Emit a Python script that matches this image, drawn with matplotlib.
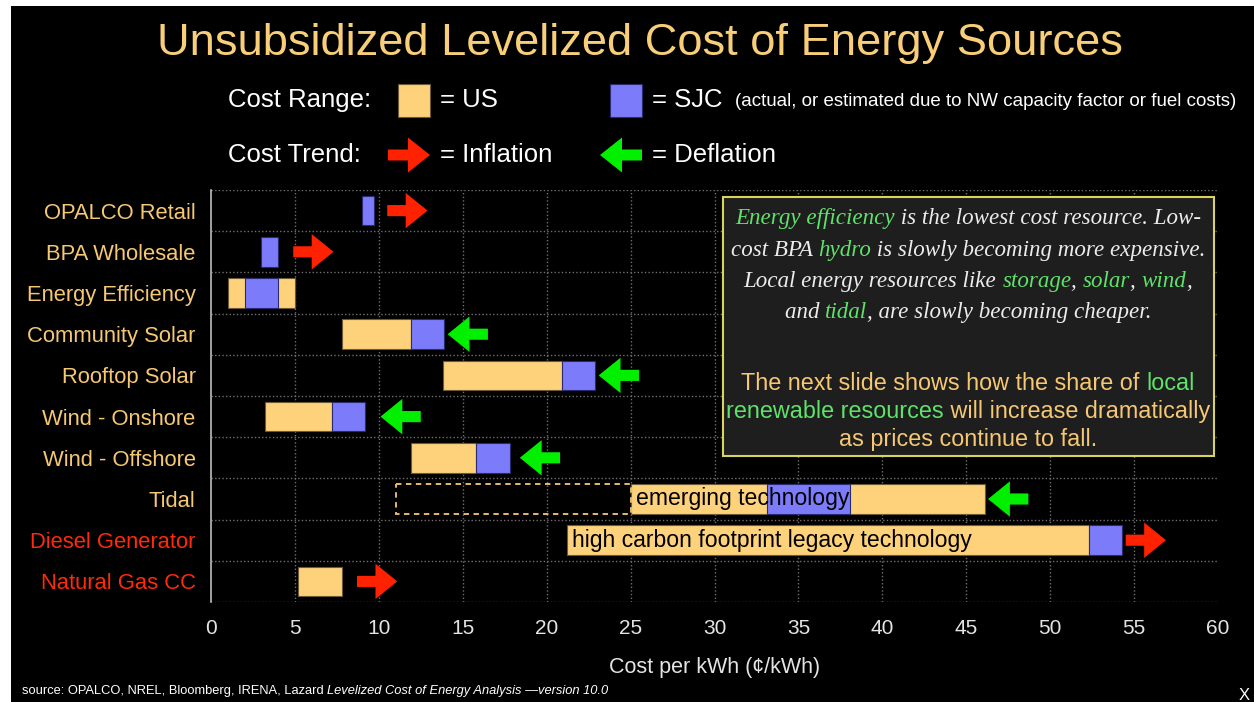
import numpy as np
import matplotlib
matplotlib.use("Agg")
import matplotlib.pyplot as plt
from matplotlib.patches import Rectangle, FancyArrow

# ---------------- data ----------------
categories = ["OPALCO Retail", "BPA Wholesale", "Energy Efficiency", "Community Solar",
              "Rooftop Solar", "Wind - Onshore", "Wind - Offshore", "Tidal",
              "Diesel Generator", "Natural Gas CC"]
us_low = [np.nan, np.nan, 1.0, 7.8, 13.8, 3.2, 11.9, 25.0, 21.2, 5.2]
us_high = [np.nan, np.nan, 5.0, 11.9, 20.9, 7.2, 15.8, 46.1, 52.3, 7.8]
sjc_low = [9.0, 3.0, 2.0, 11.9, 20.9, 7.2, 15.8, 33.1, 52.3, np.nan]
sjc_high = [9.7, 4.0, 4.0, 13.9, 22.9, 9.2, 17.8, 38.1, 54.3, np.nan]
trend = [1, 1, 0, -1, -1, -1, -1, -1, 1, 1]   # +1 inflation, -1 deflation, 0 none
arrow_start = [10.5, 4.9, np.nan, 14.1, 23.1, 10.1, 18.4, 46.3, 54.5, 8.7]
emerging_low = {7: 11.0}                      # dashed "emerging" range start
bar_notes = {7: "emerging technology", 8: "high carbon footprint legacy technology"}
label_colors = ["gold"] * 8 + ["red"] * 2
x_ticks = list(range(0, 61, 5))

# ---------------- style ----------------
YEL = "#FDD27B"
BLU = "#7C7CFB"
RED = "#FF2200"
GRN = "#00F000"
GOLD = "#F7C873"
LBLRED = "#FF2A0A"
GREENTXT = "#5EE36A"
SANS = "Liberation Sans"
SERIF = "Liberation Serif"

W, H = 1254, 702
fig = plt.figure(figsize=(W / 100, H / 100), dpi=100, facecolor="white")
fig.patches.append(Rectangle((11 / W, 0), 1 - 11 / W, 1 - 6 / H, transform=fig.transFigure,
                             facecolor="black", edgecolor="none", zorder=-10))

ax = fig.add_axes([211 / W, 1 - 602 / H, (1218 - 211) / W, (602 - 190) / H])
ax.set_facecolor("black")
n = len(categories)
y = np.arange(n)
ax.set_xlim(0, 60)
ax.set_ylim(n - 0.5, -0.5)
bh = 0.72

for i in range(n):
    if not np.isnan(us_low[i]):
        ax.barh(i, us_high[i] - us_low[i], left=us_low[i], height=bh, color=YEL,
                edgecolor="#6b5a35", linewidth=0.8, zorder=3)
    if not np.isnan(sjc_low[i]):
        ax.barh(i, sjc_high[i] - sjc_low[i], left=sjc_low[i], height=bh, color=BLU,
                edgecolor="#2a2a70", linewidth=0.8, zorder=4)
    if i in emerging_low:
        ax.add_patch(Rectangle((emerging_low[i], i - bh / 2), us_low[i] - emerging_low[i], bh,
                               facecolor="none", edgecolor=GOLD, linestyle=(0, (3, 2.5)),
                               linewidth=1.3, zorder=3))
    if i in bar_notes:
        ax.text(us_low[i] + 0.3, i, bar_notes[i], fontsize=16.6, family=SANS, color="black",
                va="center", ha="left", zorder=6)
    alen, hl = 2.4, 1.3
    if trend[i] == 1:
        ax.add_patch(FancyArrow(arrow_start[i], i, alen, 0, width=0.27, head_width=0.86,
                                head_length=hl, length_includes_head=True,
                                color=RED, linewidth=0, zorder=5))
    elif trend[i] == -1:
        ax.add_patch(FancyArrow(arrow_start[i] + alen, i, -alen, 0, width=0.27, head_width=0.86,
                                head_length=hl, length_includes_head=True,
                                color=GRN, linewidth=0, zorder=5))

ax.set_yticks(y)
ax.set_yticklabels(categories, family=SANS, fontsize=15.8)
for t, c in zip(ax.get_yticklabels(), label_colors):
    t.set_color(GOLD if c == "gold" else LBLRED)
ax.set_xticks(x_ticks)
ax.set_xticklabels([str(v) for v in x_ticks], family=SANS, fontsize=15, color="#e4e4e4")
ax.tick_params(axis="both", which="both", length=0)
ax.tick_params(axis="y", pad=11)
ax.tick_params(axis="x", pad=12)
ax.grid(False)
for v in x_ticks[1:-1]:
    ax.axvline(v, color="#707070", linestyle=(0, (1, 1.6)), linewidth=1, zorder=1)
for v in np.arange(-0.5, n, 1.0):
    ax.axhline(v, color="#707070", linestyle=(0, (1, 1.6)), linewidth=1, zorder=1)
for s in ["top", "right", "bottom"]:
    ax.spines[s].set_visible(False)
ax.spines["left"].set_color("#bdbdbd")
ax.spines["left"].set_linewidth(1.2)
ax.set_xlabel("Cost per kWh (¢/kWh)", family=SANS, fontsize=15.5, color="#e4e4e4", labelpad=14)

# ---------------- overlay in pixel coordinates ----------------
ov = fig.add_axes([0, 0, 1, 1], zorder=10)
ov.set_xlim(0, W)
ov.set_ylim(H, 0)
ov.axis("off")
ov.patch.set_alpha(0)
renderer = fig.canvas.get_renderer()


def txt_width(s, **kw):
    t = ov.text(0, 0, s + "l", **kw)
    w1 = t.get_window_extent(renderer).width
    t.remove()
    t = ov.text(0, 0, "l", **kw)
    w2 = t.get_window_extent(renderer).width
    t.remove()
    return w1 - w2


def rich(segs, x, yb, align="center"):
    widths = [txt_width(s, **kw) for s, kw in segs]
    total = sum(widths)
    x0 = x - total / 2 if align == "center" else x
    for (s, kw), w in zip(segs, widths):
        ov.text(x0, yb, s, ha="left", va="baseline", **kw)
        x0 += w


ov.text(640, 55, "Unsubsidized Levelized Cost of Energy Sources", family=SANS, fontsize=32.6,
        color="#F9CE78", ha="center", va="baseline")

# legend row 1
lkw = dict(family=SANS, fontsize=18.5, color="white", va="center", ha="left")
ov.text(228, 100, "Cost Range:", **lkw)
ov.add_patch(Rectangle((398, 84), 32, 33, facecolor=YEL, edgecolor="#6b5a35", lw=0.8))
ov.text(440, 100, "= US", **lkw)
ov.add_patch(Rectangle((610, 84), 32, 33, facecolor=BLU, edgecolor="#2a2a70", lw=0.8))
ov.text(652, 100, "= SJC", **lkw)
ov.text(735, 102, "(actual, or estimated due to NW capacity factor or fuel costs)", family=SANS,
        fontsize=13.5, color="white", va="center", ha="left")
# legend row 2
ov.text(228, 155, "Cost Trend:", **lkw)
ov.add_patch(FancyArrow(388, 155, 42, 0, width=11, head_width=35, head_length=22,
                        length_includes_head=True, color=RED, lw=0))
ov.text(440, 155, "= Inflation", **lkw)
ov.add_patch(FancyArrow(642, 155, -42, 0, width=11, head_width=35, head_length=22,
                        length_includes_head=True, color=GRN, lw=0))
ov.text(652, 155, "= Deflation", **lkw)

# text box
ov.add_patch(Rectangle((723, 197), 491, 259, facecolor="#1e1e1e", edgecolor="#d9d35e", lw=1.5,
                       zorder=2))
it = dict(family=SERIF, style="italic", fontsize=16.6, zorder=3)
wI = dict(it, color="#ececec")
gI = dict(it, color=GREENTXT)
cx = 968
rich([("Energy efficiency", gI), (" is the lowest cost resource. Low-", wI)], cx, 224)
rich([("cost BPA ", wI), ("hydro", gI), (" is slowly becoming more expensive.", wI)], cx, 256)
rich([("Local energy resources like ", wI), ("storage", gI), (", ", wI), ("solar", gI),
      (", ", wI), ("wind", gI), (",", wI)], cx, 287)
rich([("and ", wI), ("tidal", gI), (", are slowly becoming cheaper.", wI)], cx, 318)
sk = dict(family=SANS, fontsize=16.8, zorder=3)
gS = dict(sk, color=GOLD)
grS = dict(sk, color=GREENTXT)
rich([("The next slide shows how the share of ", gS), ("local", grS)], cx, 390)
rich([("renewable resources", grS), (" will increase dramatically", gS)], cx, 418)
rich([("as prices continue to fall.", gS)], cx, 446)

# source
src = dict(family=SANS, fontsize=9.3, color="white")
rich([("source: OPALCO, NREL, Bloomberg, IRENA, Lazard ", src),
      ("Levelized Cost of Energy Analysis \u2014version 10.0", dict(src, style="italic"))],
     22, 694, align="left")
ov.text(1244, 695, "X", family=SANS, fontsize=12, color="white", ha="center", va="center")

fig.savefig("out.png", dpi=100, facecolor=fig.get_facecolor())
